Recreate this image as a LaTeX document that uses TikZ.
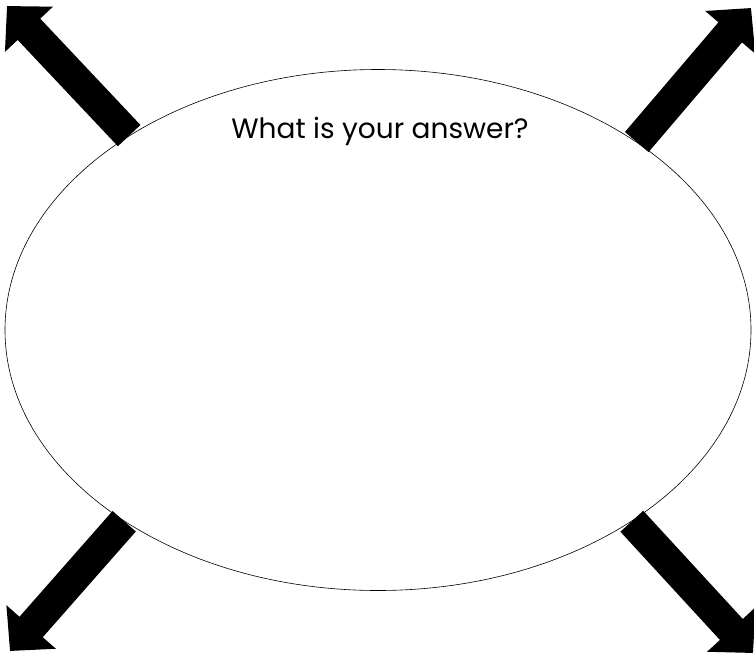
\documentclass[tikz,border=0pt]{standalone}
\usepackage{fontspec}
\setmainfont{Poppins}
\usetikzlibrary{shapes.geometric,arrows.meta}

\tikzset{
  fatarrow/.style={line width=31pt, -{Triangle[width=64pt,length=32pt]}},
}

\begin{document}
\begin{tikzpicture}[x=1pt,y=-1pt]
            \useasboundingbox (0,0) rectangle (754,654);
            \node[ellipse, draw, line width=0.6pt, minimum width=746pt, minimum height=521pt, inner sep=0pt] (blob) at (378,330) {};
            \node[font=\fontsize{28}{31}\selectfont, anchor=base] (question) at (380,138) {What is your answer?};
            \coordinate (tl) at (7,6);
            \coordinate (tr) at (751,8);
            \coordinate (bl) at (10,651);
            \coordinate (br) at (753,653);
            \draw[fatarrow] (blob.142.6) -- (tl);
            \draw[fatarrow] (blob.36.5) -- (tr);
            \draw[fatarrow] (blob.217.2) -- (bl);
            \draw[fatarrow] (blob.323.8) -- (br);
        \end{tikzpicture}
\end{document}
